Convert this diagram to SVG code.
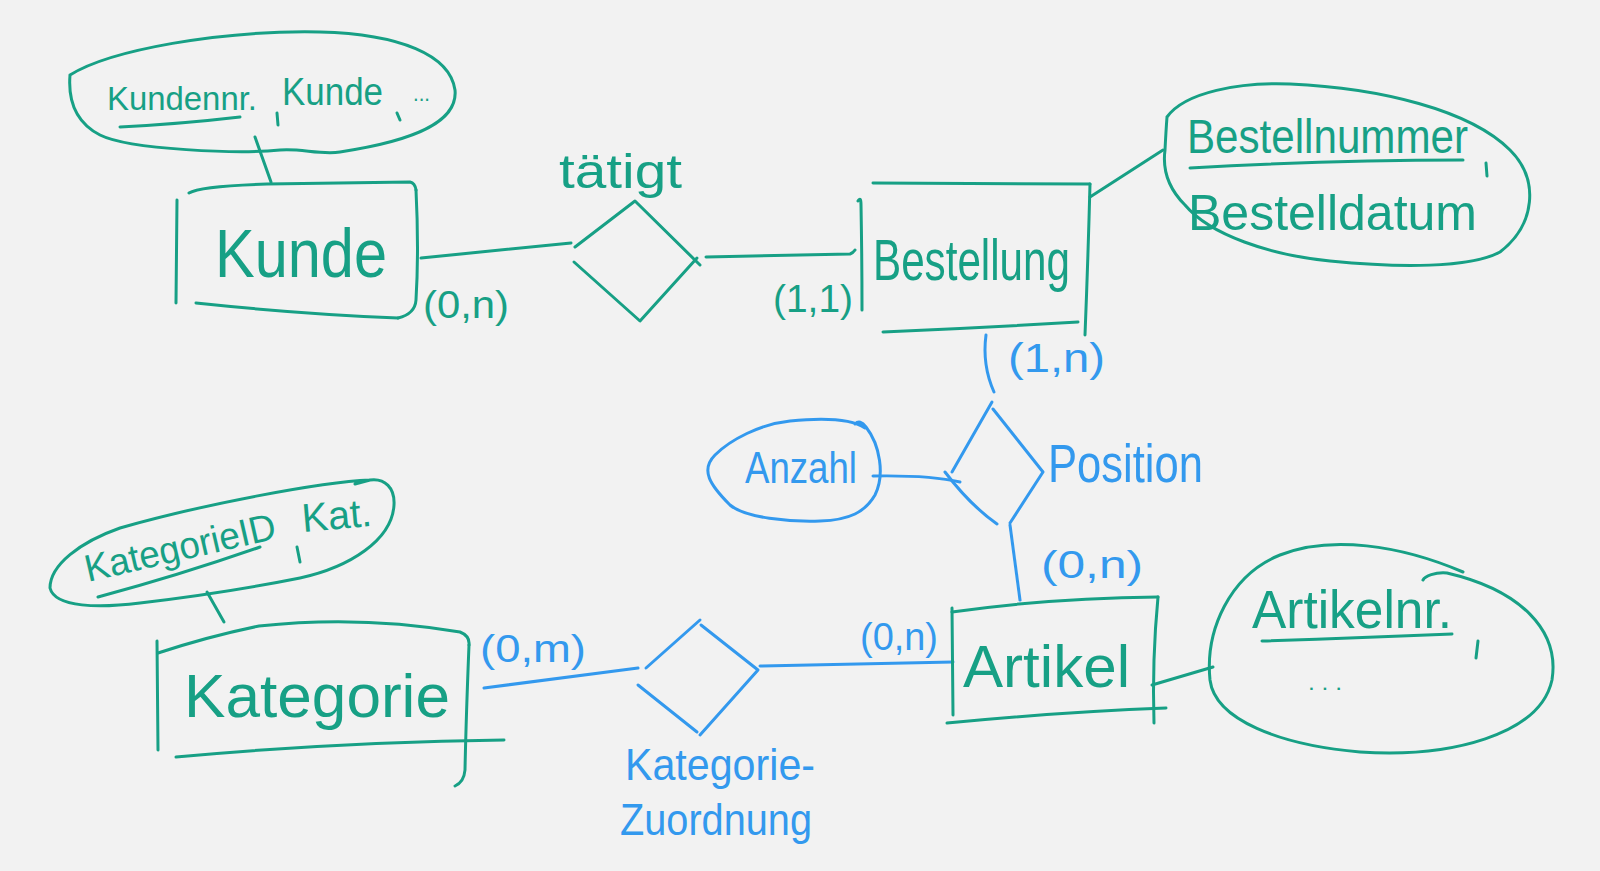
<svg xmlns="http://www.w3.org/2000/svg" width="1600" height="871" viewBox="0 0 1600 871">
<style>
.g{stroke:#17a085;fill:none;stroke-width:3;stroke-linecap:round;stroke-linejoin:round}
.b{stroke:#3399ee;fill:none;stroke-width:3;stroke-linecap:round;stroke-linejoin:round}
.tg{fill:#17a085;font-family:"Liberation Sans",Arial,sans-serif}
.tb{fill:#3399ee;font-family:"Liberation Sans",Arial,sans-serif}
</style>
<rect x="0" y="0" width="1600" height="871" fill="#f2f2f2"/>

<g id="connectors">
<path class="g" d="M255,137 L271,182"/>
<path class="g" d="M421,258 L571,243"/>
<path class="g" d="M706,257 L850,254 Q853,253 855,250"/>
<path class="g" d="M1090,197 L1163,150"/>
<path class="b" d="M986,335 Q982,365 994,392"/>
<path class="b" d="M873,476 Q930,475 960,482"/>
<path class="b" d="M1010,525 L1020,600"/>
<path class="g" d="M1152,685 L1213,667"/>
<path class="b" d="M760,666 L953,662"/>
<path class="b" d="M484,688 L638,668"/>
<path class="g" d="M207,592 L224,622"/>
<text class="tg" x="423" y="318" font-size="38" textLength="86" lengthAdjust="spacingAndGlyphs">(0,n)</text>
<text class="tg" x="773" y="312" font-size="38" textLength="80" lengthAdjust="spacingAndGlyphs">(1,1)</text>
<text class="tb" x="1008" y="372" font-size="40" textLength="97" lengthAdjust="spacingAndGlyphs">(1,n)</text>
<text class="tb" x="1041" y="578" font-size="38" textLength="102" lengthAdjust="spacingAndGlyphs">(0,n)</text>
<text class="tb" x="860" y="650" font-size="38" textLength="78" lengthAdjust="spacingAndGlyphs">(0,n)</text>
<text class="tb" x="480" y="662" font-size="38" textLength="106" lengthAdjust="spacingAndGlyphs">(0,m)</text>
</g>

<g id="attr-kunde">
<path class="g" d="M70,75 C110,50 220,30 320,32 C400,34 450,55 455,90 C458,120 420,140 340,152 C320,155 300,148 280,150 C240,154 130,150 100,135 C75,122 68,100 70,75"/>
<text class="tg" x="107" y="110" font-size="34" textLength="150" lengthAdjust="spacingAndGlyphs">Kundennr.</text>
<path class="g" d="M120,127 Q180,124 240,117"/>
<path class="g" d="M277,113 L278,125"/>
<text class="tg" x="282" y="105" font-size="38" textLength="101" lengthAdjust="spacingAndGlyphs">Kunde</text>
<path class="g" d="M397,113 L400,120"/>
<text class="tg" x="413" y="101" font-size="22" textLength="17" lengthAdjust="spacingAndGlyphs">...</text>
</g>

<g id="entity-kunde">
<path class="g" d="M177,200 L176,303"/>
<path class="g" d="M189,193 Q200,186 267,184 L410,182 Q415,183 416,190"/>
<path class="g" d="M416,190 Q419,250 416,300 Q415,314 398,318"/>
<path class="g" d="M196,303 Q300,314 398,318"/>
<text class="tg" x="215" y="277" font-size="68" textLength="172" lengthAdjust="spacingAndGlyphs">Kunde</text>
</g>

<g id="rel-taetigt">
<path class="g" d="M575,247 L635,201 L700,265"/>
<path class="g" d="M574,262 L640,321 L697,258"/>
<text class="tg" x="559" y="188" font-size="48" textLength="123" lengthAdjust="spacingAndGlyphs">tätigt</text>
</g>

<g id="entity-bestellung">
<path class="g" d="M858,201 Q861,196 861,205 Q862,260 862,310"/>
<path class="g" d="M873,183 L1090,184"/>
<path class="g" d="M1090,184 Q1088,260 1085,335"/>
<path class="g" d="M883,332 Q980,328 1078,322"/>
<text class="tg" x="873" y="280" font-size="58" textLength="197" lengthAdjust="spacingAndGlyphs">Bestellung</text>
</g>

<g id="attr-bestellung">
<path class="g" d="M1167,117 C1185,92 1240,82 1290,84 C1380,88 1470,110 1510,150 C1540,180 1535,225 1500,252 C1470,268 1400,268 1330,261 C1270,255 1210,235 1185,205 C1165,185 1163,165 1165,150 Q1166,130 1167,117"/>
<text class="tg" x="1187" y="153" font-size="48" textLength="281" lengthAdjust="spacingAndGlyphs">Bestellnummer</text>
<path class="g" d="M1190,168 Q1330,160 1463,160"/>
<path class="g" d="M1486,163 L1487,176"/>
<text class="tg" x="1188" y="230" font-size="50" textLength="289" lengthAdjust="spacingAndGlyphs">Bestelldatum</text>
</g>

<g id="rel-position">
<path class="b" d="M952,472 L992,402"/>
<path class="b" d="M993,409 L1043,472 L1010,523"/>
<path class="b" d="M945,472 Q970,505 997,524"/>
<text class="tb" x="1048" y="482" font-size="54" textLength="155" lengthAdjust="spacingAndGlyphs">Position</text>
</g>

<g id="attr-anzahl">
<path class="b" d="M865,428 C850,418 820,418 790,421 C760,424 730,440 715,455 C700,470 710,485 730,505 C745,518 790,522 820,521 C850,520 865,512 875,495 C885,475 880,445 866,427 Q860,419 855,424"/>
<text class="tb" x="745" y="483" font-size="44" textLength="112" lengthAdjust="spacingAndGlyphs">Anzahl</text>
</g>

<g id="entity-artikel">
<path class="g" d="M952,608 L953,715"/>
<path class="g" d="M952,612 Q1050,598 1158,597"/>
<path class="g" d="M1158,597 Q1152,660 1154,723"/>
<path class="g" d="M947,723 Q1060,712 1166,708"/>
<text class="tg" x="963" y="687" font-size="60" textLength="167" lengthAdjust="spacingAndGlyphs">Artikel</text>
</g>

<g id="attr-artikel">
<path class="g" d="M1463,572 C1400,545 1330,535 1280,555 C1230,575 1205,630 1210,680 C1215,720 1280,745 1360,752 C1450,758 1540,735 1552,680 C1560,630 1520,590 1447,573 C1435,572 1425,576 1423,580"/>
<text class="tg" x="1252" y="628" font-size="54" textLength="200" lengthAdjust="spacingAndGlyphs">Artikelnr.</text>
<path class="g" d="M1262,641 Q1360,638 1452,634"/>
<path class="g" d="M1478,641 L1476,658"/>
<text class="tg" x="1308" y="690" font-size="22" textLength="34" lengthAdjust="spacingAndGlyphs">. . .</text>
</g>

<g id="entity-kategorie">
<path class="g" d="M157,641 L158,750"/>
<path class="g" d="M158,653 Q210,636 259,626 Q360,615 460,632 Q470,636 469,645"/>
<path class="g" d="M469,645 Q466,720 465,770 Q464,782 455,786"/>
<path class="g" d="M176,757 Q340,742 504,740"/>
<text class="tg" x="184" y="717" font-size="62" textLength="266" lengthAdjust="spacingAndGlyphs">Kategorie</text>
</g>

<g id="attr-kategorie">
<path class="g" d="M370,480 C320,482 200,505 120,528 C80,542 50,565 50,588 C55,608 100,608 140,603 C200,596 240,590 300,578 C350,567 392,540 394,505 C395,488 385,478 370,480 L355,484"/>
<text class="tg" x="88" y="582" font-size="38" textLength="195" lengthAdjust="spacingAndGlyphs" transform="rotate(-13 88 582)">KategorieID</text>
<path class="g" d="M98,597 Q180,575 260,547"/>
<path class="g" d="M297,547 L300,562"/>
<text class="tg" x="303" y="532" font-size="40" textLength="70" lengthAdjust="spacingAndGlyphs" transform="rotate(-5 303 532)">Kat.</text>
</g>

<g id="rel-kategoriezuordnung">
<path class="b" d="M646,668 L700,620"/>
<path class="b" d="M701,625 L758,670 L700,735"/>
<path class="b" d="M697,732 L638,685"/>
<text class="tb" x="625" y="780" font-size="44" textLength="190" lengthAdjust="spacingAndGlyphs">Kategorie-</text>
<text class="tb" x="620" y="835" font-size="44" textLength="192" lengthAdjust="spacingAndGlyphs">Zuordnung</text>
</g>
</svg>
